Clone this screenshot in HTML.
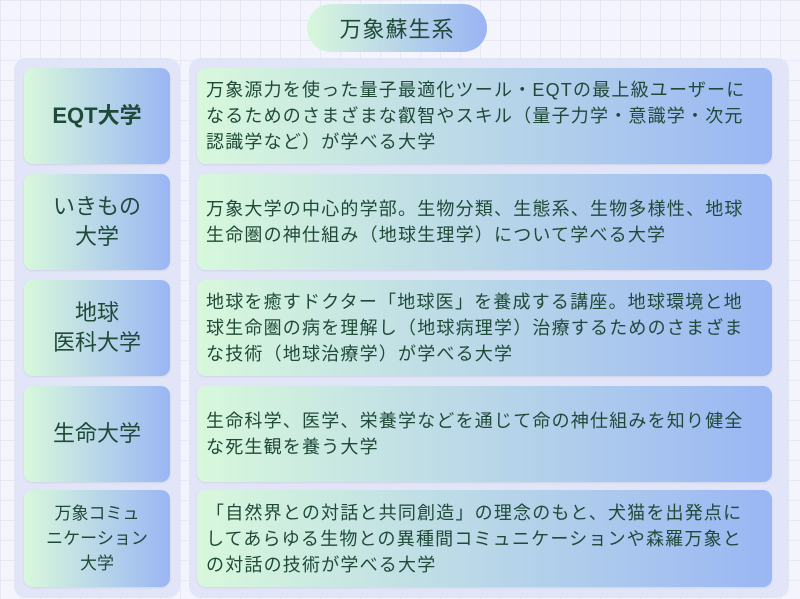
<!DOCTYPE html>
<html><head><meta charset="utf-8"><style>
body{margin:0;width:800px;height:599px;overflow:hidden;background:#f4f5fc;
background-image:linear-gradient(#e6e8f6 1px,transparent 1px),linear-gradient(90deg,#e6e8f6 1px,transparent 1px);background-size:20px 20px;
font-family:"Liberation Sans","Noto Sans CJK JP",sans-serif;color:#1f4a38;position:relative}
.pill{position:absolute;left:307px;top:4px;width:180px;height:48px;border-radius:24px;background:linear-gradient(90deg,#d8f8dc,#9ab4f4);display:flex;align-items:center;justify-content:center;font-size:22px;letter-spacing:1px}
.panel{position:absolute;background:#e2e5f8;border-radius:12px}
.b{position:absolute;border-radius:9px;background:linear-gradient(90deg,#d8f8dc,#9ab6f4);display:flex;align-items:center;box-shadow:0 1px 2px rgba(0,0,0,.08)}
.l{left:24px;width:146px;justify-content:center;text-align:center;font-size:22px;line-height:30px}
.r{left:197px;width:575px;padding:0 0 0 9px;box-sizing:border-box;font-size:18px;line-height:26px;letter-spacing:1.2px;white-space:nowrap}
</style></head><body>
<div class="pill">万象蘇生系</div>
<div class="panel" style="left:14px;top:58px;width:166px;height:540px"></div>
<div class="panel" style="left:189px;top:58px;width:600px;height:540px"></div>
<div class="b l" style="top:68px;height:96px;font-weight:bold">EQT大学</div>
<div class="b l" style="top:174px;height:96px">いきもの<br>大学</div>
<div class="b l" style="top:280px;height:96px">地球<br>医科大学</div>
<div class="b l" style="top:386px;height:96px">生命大学</div>
<div class="b l" style="top:490px;height:97px;font-size:17px;line-height:25px">万象コミュ<br>ニケーション<br>大学</div>
<div class="b r" style="top:68px;height:96px">万象源力を使った量子最適化ツール・EQTの最上級ユーザーに<br>なるためのさまざまな叡智やスキル（量子力学・意識学・次元<br>認識学など）が学べる大学</div>
<div class="b r" style="top:174px;height:96px">万象大学の中心的学部。生物分類、生態系、生物多様性、地球<br>生命圏の神仕組み（地球生理学）について学べる大学</div>
<div class="b r" style="top:280px;height:96px">地球を癒すドクター「地球医」を養成する講座。地球環境と地<br>球生命圏の病を理解し（地球病理学）治療するためのさまざま<br>な技術（地球治療学）が学べる大学</div>
<div class="b r" style="top:386px;height:96px">生命科学、医学、栄養学などを通じて命の神仕組みを知り健全<br>な死生観を養う大学</div>
<div class="b r" style="top:490px;height:97px">「自然界との対話と共同創造」の理念のもと、犬猫を出発点に<br>してあらゆる生物との異種間コミュニケーションや森羅万象と<br>の対話の技術が学べる大学</div>
</body></html>
